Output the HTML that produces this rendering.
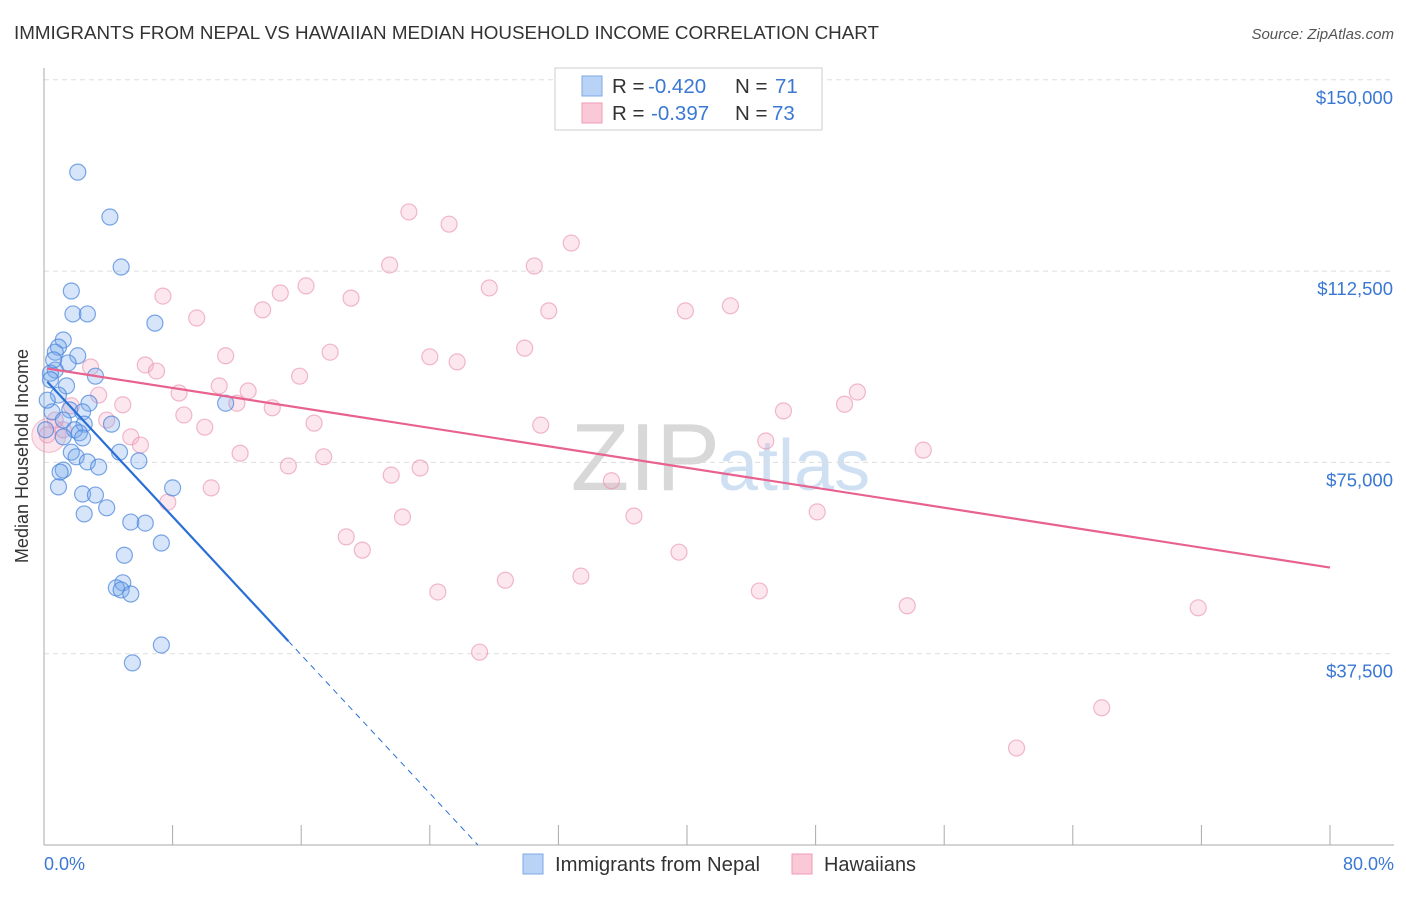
<!DOCTYPE html>
<html><head><meta charset="utf-8"><style>
body{margin:0;background:#fff;font-family:"Liberation Sans",sans-serif;}
svg text{font-family:"Liberation Sans",sans-serif;}
</style></head><body>
<svg id="chart" width="1406" height="892" xmlns="http://www.w3.org/2000/svg">
<text x="14" y="39" font-size="18" fill="#333" textLength="865" lengthAdjust="spacingAndGlyphs">IMMIGRANTS FROM NEPAL VS HAWAIIAN MEDIAN HOUSEHOLD INCOME CORRELATION CHART</text>
<text x="1394" y="39" font-size="15" fill="#555" font-style="italic" text-anchor="end">Source: ZipAtlas.com</text>
<text x="720" y="490" font-size="96" fill="#d8d8d8" text-anchor="end" font-family="Liberation Serif">ZIP</text>
<text x="718" y="490" font-size="72" fill="#cfe0f3">atlas</text>
<g id="grid"></g>
<line x1="44" y1="68" x2="44" y2="845" stroke="#aaa"/>
<line x1="44" y1="845" x2="1394" y2="845" stroke="#aaa"/>
<g id="xticks"></g>
<text x="28" y="456" font-size="18" fill="#333" text-anchor="middle" transform="rotate(-90 28 456)">Median Household Income</text>
<text x="44" y="870" font-size="18" fill="#3a78d4">0.0%</text>
<text x="1394" y="870" font-size="18" fill="#3a78d4" text-anchor="end">80.0%</text>
<g id="pts"></g>
<g id="trends"></g>
<g>
<rect x="555" y="68" width="267" height="62" fill="#fff" stroke="#ccc"/>
<rect x="582" y="76" width="20" height="20" fill="#b8d3f5" stroke="#7fa9e6"/>
<rect x="582" y="103" width="20" height="20" fill="#fbc8d7" stroke="#ee9db7"/>
<text x="612" y="93" font-size="20.5" fill="#333">R = <tspan fill="#3a78d4" x="648">-0.420</tspan><tspan x="735">N = </tspan><tspan fill="#3a78d4" x="775">71</tspan></text>
<text x="612" y="120" font-size="20.5" fill="#333">R = <tspan fill="#3a78d4" x="651">-0.397</tspan><tspan x="735">N = </tspan><tspan fill="#3a78d4" x="772">73</tspan></text>
</g>
<g>
<rect x="523" y="854" width="20" height="20" fill="#b8d3f5" stroke="#7fa9e6"/>
<text x="555" y="871" font-size="20" fill="#333" textLength="205" lengthAdjust="spacingAndGlyphs">Immigrants from Nepal</text>
<rect x="792" y="854" width="20" height="20" fill="#fbc8d7" stroke="#ee9db7"/>
<text x="824" y="871" font-size="20" fill="#333" textLength="92" lengthAdjust="spacingAndGlyphs">Hawaiians</text>
</g>
</svg>
<script>
const yTicks=[37500,75000,112500,150000];
const yTickLabels=["$37,500","$75,000","$112,500","$150,000"];
const xTicks=[0,8,16,24,32,40,48,56,64,72,80];
const nepalX=[2.1,4.1,4.8,1.7,1.8,2.7,6.9,1.2,0.9,0.7,2.1,1.5,0.7,0.4,3.2,1.4,0.9,2.8,11.3,1.6,2.4,0.5,1.2,2.5,4.2,1.9,2.2,2.4,1.2,4.7,1.7,2.0,2.7,3.4,5.9,1.2,1.0,0.9,8.0,2.4,3.2,2.5,3.9,5.4,6.3,7.3,5.0,4.9,4.5,4.8,5.4,7.3,5.5,0.2,0.4,0.6,0.1];
const nepalY=[131900,123100,113300,108600,104100,104100,102300,99000,97600,96600,95900,94500,93100,92500,91900,90000,88200,86600,86600,85300,84900,84900,83300,82500,82500,81400,80800,79800,80000,77000,77000,76100,75100,74100,75300,73500,73100,70200,70000,68800,68600,64900,66100,63300,63100,59200,56800,51400,50400,50000,49200,39200,35700,87200,91200,95100,81400];
const hawX=[22.7,25.2,32.8,21.5,30.5,16.3,14.7,27.7,7.4,19.1,13.6,31.4,39.9,42.7,9.5,17.8,11.3,24.0,25.7,29.9,2.9,6.3,7.0,15.9,10.9,12.7,8.4,50.6,3.4,4.9,12.0,14.2,46.0,49.8,8.7,1.7,16.8,30.9,10.0,3.9,1.2,44.9,54.7,5.4,6.0,12.2,17.4,15.2,21.6,23.4,35.3,10.4,7.7,48.1,36.7,22.3,18.8,19.8,39.5,28.7,33.4,24.5,44.5,53.7,71.8,27.1,65.8,60.5,0.2,0.7];
const hawY=[124100,121700,118000,113700,113500,109600,108200,109200,107600,107200,104900,104700,104700,105700,103300,96600,95900,95700,94700,97400,93700,94100,92900,91900,90000,89000,88600,88800,88200,86300,86600,85700,85100,86400,84300,86100,82700,82300,81900,83300,81400,79200,77400,80000,78400,76800,76100,74300,72500,73900,71400,70000,67200,65300,64500,64300,60400,57800,57400,51900,52700,49600,49800,46900,46500,37800,26900,19000,80400,83300];
const nepalTrend=[91500,-3390];
const hawTrend=[93500,-489];
const nepalSolidEnd=15.2;
const NS="http://www.w3.org/2000/svg";
const sx=v=>44+v/80*1286;
const sy=v=>845-v/37500*191.3;
function mk(tag,attrs,parent){const e=document.createElementNS(NS,tag);for(const k in attrs)e.setAttribute(k,attrs[k]);parent.appendChild(e);return e;}
const grid=document.getElementById('grid');
yTicks.forEach((t,i)=>{
 const l=mk('line',{x1:44,x2:1394,y1:sy(t),y2:sy(t),stroke:'#ddd','stroke-dasharray':'5,4'},grid);
 
 
 const tx=mk('text',{x:1393,y:sy(t)+24,'font-size':18.5,fill:'#3a78d4','text-anchor':'end'},grid);
 tx.textContent=yTickLabels[i];
 
 
});
const xt=document.getElementById('xticks');
xTicks.forEach(t=>{
 const l=mk('line',{x1:sx(t),x2:sx(t),y1:825,y2:845,stroke:'#aaa'},xt);
 
 
});
const pts=document.getElementById('pts');
const big=mk('circle',{cx:sx(0.3),cy:sy(80300),r:17,fill:'rgba(244,170,195,0.3)',stroke:'rgba(232,150,180,0.6)'},pts);


hawX.forEach((x,i)=>{
 const c=mk('circle',{cx:sx(x),cy:sy(hawY[i]),r:8,fill:'rgba(244,170,195,0.28)',stroke:'rgba(232,140,172,0.6)','stroke-width':1.2},pts);
 
 
});
nepalX.forEach((x,i)=>{
 const c=mk('circle',{cx:sx(x),cy:sy(nepalY[i]),r:8,fill:'rgba(120,170,235,0.3)',stroke:'rgba(70,130,220,0.7)','stroke-width':1.2},pts);
 
 
});
const tr=document.getElementById('trends');
const nf=x=>nepalTrend[0]+nepalTrend[1]*x;
const hf=x=>hawTrend[0]+hawTrend[1]*x;
const zeroX=-nepalTrend[0]/nepalTrend[1];
let a=mk('line',{x1:sx(0.2),y1:sy(nf(0.2)),x2:sx(nepalSolidEnd),y2:sy(nf(nepalSolidEnd)),stroke:'#2a6fd6','stroke-width':2.2},tr);


a=mk('line',{x1:sx(nepalSolidEnd),y1:sy(nf(nepalSolidEnd)),x2:sx(zeroX),y2:sy(0),stroke:'#2a6fd6','stroke-width':1,'stroke-dasharray':'6,5'},tr);


a=mk('line',{x1:sx(0.2),y1:sy(hf(0.2)),x2:sx(80),y2:sy(hf(80)),stroke:'#e8628f','stroke-width':2.2},tr);


</script>
</body></html>
